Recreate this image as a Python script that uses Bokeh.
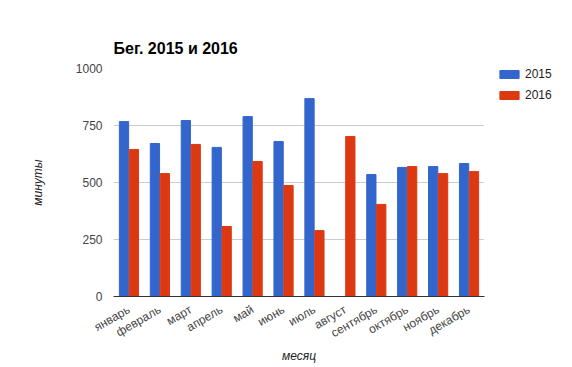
from bokeh.plotting import figure
from bokeh.models import ColumnDataSource, FactorRange, Legend, LegendItem
from bokeh.transform import dodge
from bokeh.embed import file_html
from bokeh.resources import INLINE
import math

months = ["январь", "февраль", "март", "апрель", "май", "июнь", "июль",
          "август", "сентябрь", "октябрь", "ноябрь", "декабрь"]
y2015 = [767, 671, 772, 654, 789, 680, 868, 0, 535, 566, 570, 583]
y2016 = [645, 539, 667, 307, 592, 487, 289, 702, 404, 570, 539, 548]
y_ticks = [0, 250, 500, 750, 1000]

src = ColumnDataSource(dict(m=months, a=y2015, b=y2016))

FONT = "Liberation Sans"
p = figure(x_range=FactorRange(*months), y_range=(0, 1000),
           frame_width=371, frame_height=228,
           output_backend="svg", toolbar_location=None,
           min_border_left=113, min_border_right=80, min_border_top=68,
           min_border_bottom=60, outline_line_color=None)

r1 = p.vbar(x=dodge("m", -0.16, range=p.x_range), top="a", width=0.3,
            source=src, color="#3366CC")
r2 = p.vbar(x=dodge("m", 0.16, range=p.x_range), top="b", width=0.3,
            source=src, color="#DC3912")

p.title.text = "Бег. 2015 и 2016"
p.title.text_font = FONT
p.title.text_font_size = "16px"
p.title.text_font_style = "bold"
p.title.text_color = "#000000"
p.title.align = "left"
p.title.standoff = 23

p.yaxis.ticker = y_ticks
p.yaxis.axis_line_color = None
p.yaxis.major_tick_line_color = None
p.yaxis.minor_tick_line_color = None
p.yaxis.major_tick_out = 0
p.yaxis.minor_tick_out = 0
p.yaxis.major_label_text_font = FONT
p.yaxis.major_label_text_font_size = "12px"
p.yaxis.major_label_text_color = "#444444"
p.yaxis.major_label_standoff = 11
p.yaxis.axis_label = "минуты"
p.yaxis.axis_label_text_font = FONT
p.yaxis.axis_label_text_font_size = "12px"
p.yaxis.axis_label_text_font_style = "italic"
p.yaxis.axis_label_text_color = "#222222"
p.yaxis.axis_label_standoff = 28

p.xaxis.axis_line_color = "#333333"
p.xaxis.axis_line_width = 1
p.xaxis.major_tick_line_color = None
p.xaxis.minor_tick_line_color = None
p.xaxis.major_tick_out = 0
p.xaxis.minor_tick_out = 0
p.xaxis.major_label_orientation = math.pi / 6
p.xaxis.major_label_text_font = FONT
p.xaxis.major_label_text_font_size = "12px"
p.xaxis.major_label_text_color = "#444444"
p.xaxis.major_label_standoff = 12
p.xaxis.axis_label = "месяц"
p.xaxis.axis_label_text_font = FONT
p.xaxis.axis_label_text_font_size = "12px"
p.xaxis.axis_label_text_font_style = "italic"
p.xaxis.axis_label_text_color = "#222222"
p.xaxis.axis_label_standoff = 0

p.xgrid.grid_line_color = None
p.ygrid.grid_line_color = "#cccccc"

legend = Legend(items=[LegendItem(label="2015", renderers=[r1]),
                       LegendItem(label="2016", renderers=[r2])],
                location=(13, 194), padding=0, margin=0, spacing=7,
                glyph_width=24, glyph_height=10, label_height=10,
                label_text_font=FONT, label_text_font_size="12px",
                label_text_color="#222222", label_standoff=4,
                border_line_color=None, background_fill_alpha=0)
p.add_layout(legend, "right")

open("out.html", "w").write(file_html(p, INLINE))
